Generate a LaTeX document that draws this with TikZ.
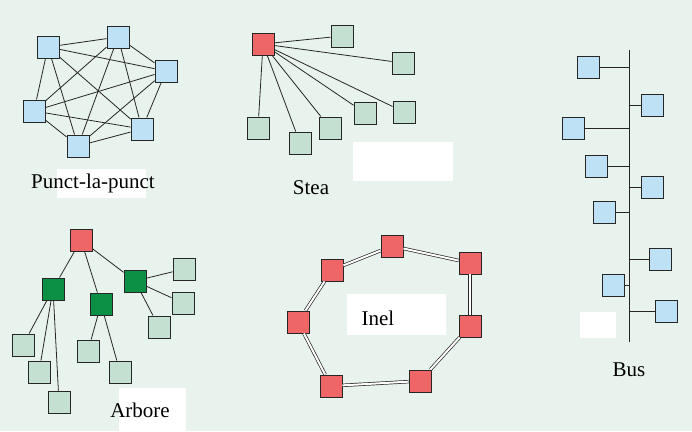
\documentclass[tikz,border=0pt]{standalone}
\usepackage{fontspec}
\setmainfont{Liberation Serif}
\definecolor{bg}{RGB}{233,243,237}
\definecolor{blu}{RGB}{190,225,245}
\definecolor{rd}{RGB}{239,102,102}
\definecolor{dg}{RGB}{11,144,70}
\definecolor{lg}{RGB}{196,224,208}
\begin{document}
\begin{tikzpicture}[x=1pt,y=-1pt,
  box/.style={draw=black!85,line width=0.9pt,minimum size=22pt,inner sep=0pt},
  bbox/.style={box,fill=blu},
  rbox/.style={box,fill=rd},
  gbox/.style={box,fill=dg},
  lbox/.style={box,fill=lg},
  ln/.style={draw=black!85,line width=0.8pt},
  ring/.style={draw=black!85,double=white,double distance=2pt,line width=0.7pt},
  lbl/.style={font=\fontsize{21}{24}\selectfont,inner sep=0pt},
  patch/.style={fill=white,draw=none}]
\fill[bg] (0,0) rectangle (692,431);
\useasboundingbox (0,0) rectangle (692,431);
% white patches
\fill[patch] (57,169) rectangle (146,198);
\fill[patch] (353,142) rectangle (453,181);
\fill[patch] (580,312) rectangle (616,338);
\fill[patch] (119,388) rectangle (186,431);
\fill[patch] (347,294) rectangle (446,335);
% Punct-la-punct
\node[bbox] (pa) at (48,47) {};
\node[bbox] (pb) at (118,37) {};
\node[bbox] (pc) at (166,71) {};
\node[bbox] (pd) at (34,111) {};
\node[bbox] (pe) at (142,129) {};
\node[bbox] (pf) at (78,146) {};
\foreach \u/\v in {pa/pb,pa/pc,pa/pd,pa/pe,pa/pf,pb/pc,pb/pd,pb/pe,pb/pf,pc/pd,pc/pe,pc/pf,pd/pe,pd/pf,pe/pf}
  \draw[ln] (\u) -- (\v);
\node[lbl] (tp) at (93,183) {Punct-la-punct};
% Stea
\node[rbox] (sh) at (263,44) {};
\node[lbox] (s1) at (342,36) {};
\node[lbox] (s2) at (403,63) {};
\node[lbox] (s3) at (404,112) {};
\node[lbox] (s4) at (365,113) {};
\node[lbox] (s5) at (330,128) {};
\node[lbox] (s6) at (300,143) {};
\node[lbox] (s7) at (258,128) {};
\foreach \v in {s1,s2,s3,s4,s5,s6,s7}
  \draw[ln] (sh) -- (\v);
\node[lbl] (ts) at (311,188) {Stea};
% Bus
\coordinate (bt) at (629,50);
\coordinate (bb) at (629,342);
\draw[ln] (bt) -- (bb);
\foreach \n/\x/\y in {b1/588/67,b2/652/105,b3/573/128,b4/596/166,b5/652/187,b6/604/212,b7/660/259,b8/613/285,b9/666/311}{
  \node[bbox] (\n) at (\x,\y) {};
  \coordinate (\n c) at (629,\y);
  \draw[ln] (\n c) -- (\n);
}
\node[lbl] (tb) at (629,370) {Bus};
% Arbore
\node[rbox] (ar) at (81,240) {};
\node[gbox] (g1) at (53,289) {};
\node[gbox] (g2) at (101,304) {};
\node[gbox] (g3) at (135,281) {};
\node[lbox] (l1) at (23,345) {};
\node[lbox] (l2) at (39,372) {};
\node[lbox] (l3) at (59,402) {};
\node[lbox] (l4) at (88,351) {};
\node[lbox] (l5) at (120,372) {};
\node[lbox] (l6) at (184,269) {};
\node[lbox] (l7) at (183,303) {};
\node[lbox] (l8) at (159,327) {};
\foreach \u/\v in {ar/g1,ar/g2,ar/g3,g1/l1,g1/l2,g1/l3,g2/l4,g2/l5,g3/l6,g3/l7,g3/l8}
  \draw[ln] (\u) -- (\v);
\node[lbl] (ta) at (140,410) {Arbore};
% Inel
\node[rbox] (r1) at (392,246) {};
\node[rbox] (r2) at (470,263) {};
\node[rbox] (r3) at (470,326) {};
\node[rbox] (r4) at (420,381) {};
\node[rbox] (r5) at (331,386) {};
\node[rbox] (r6) at (298,322) {};
\node[rbox] (r7) at (332,270) {};
\foreach \u/\v in {r1/r2,r2/r3,r3/r4,r4/r5,r5/r6,r6/r7,r7/r1}
  \draw[ring] (\u) -- (\v);
\node[lbl] (ti) at (378,318) {Inel};
\end{tikzpicture}
\end{document}
